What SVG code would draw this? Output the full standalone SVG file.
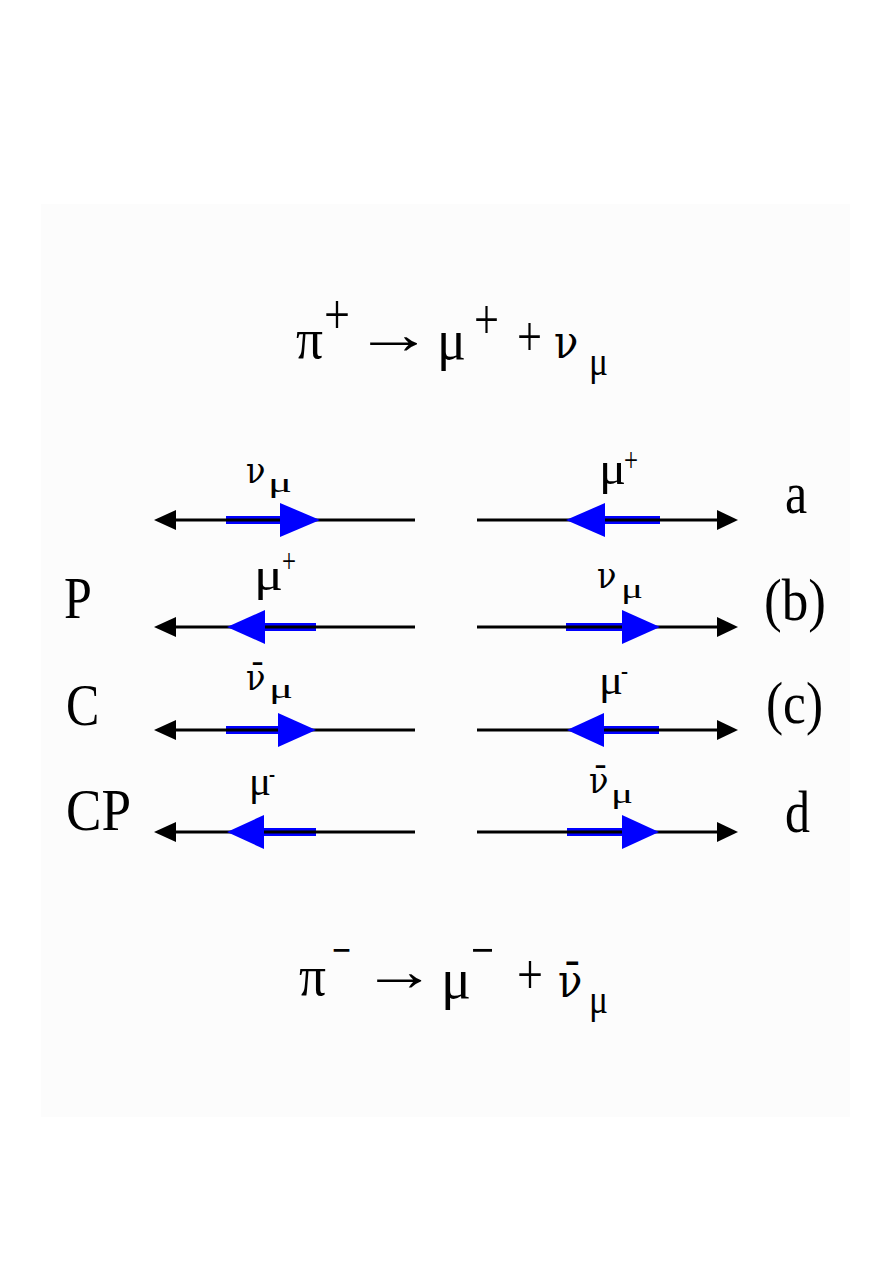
<svg xmlns="http://www.w3.org/2000/svg" width="893" height="1263" viewBox="0 0 893 1263">
<style>
.ax{stroke:#000;stroke-width:3;fill:none}
.bs{stroke:#0000ff;stroke-width:8;fill:none}
.bh{fill:#0000ff}
.kh{fill:#000}
.t{font-family:"Liberation Serif","Times New Roman",serif;fill:#000}
.dj{font-family:"DejaVu Serif","Liberation Serif",serif;fill:#000}
.big{font-size:50px}
.eq{font-size:48px}
.lab{font-size:36px}
.sub{font-size:24px}
.sup{font-size:28px}
.nuT{font-size:40px}
.nuL{font-size:32px}
</style>
<rect x="0" y="0" width="893" height="1263" fill="#ffffff"/>
<rect x="41" y="204" width="809" height="913" fill="#fcfcfc"/>

<g id="connectors">
  <!-- row a -->
  <line class="bs" x1="226" y1="520" x2="282" y2="520"/>
  <line class="ax" x1="160" y1="520" x2="415" y2="520"/>
  <polygon class="bh" points="280,503 320,520 280,537"/>
  <polygon class="kh" points="154,520 176,510 176,530"/>
  <line class="bs" x1="603" y1="520" x2="660" y2="520"/>
  <line class="ax" x1="477" y1="520" x2="732" y2="520"/>
  <polygon class="bh" points="605,503 566,520 605,537"/>
  <polygon class="kh" points="738,520 717,510 717,530"/>
  <!-- row b -->
  <line class="bs" x1="262" y1="627" x2="316" y2="627"/>
  <line class="ax" x1="160" y1="627" x2="415" y2="627"/>
  <polygon class="bh" points="265,610 227,627 265,644"/>
  <polygon class="kh" points="154,627 176,617 176,637"/>
  <line class="bs" x1="566" y1="627" x2="625" y2="627"/>
  <line class="ax" x1="477" y1="627" x2="732" y2="627"/>
  <polygon class="bh" points="622,610 660,627 622,644"/>
  <polygon class="kh" points="738,627 717,617 717,637"/>
  <!-- row c -->
  <line class="bs" x1="226" y1="730" x2="280" y2="730"/>
  <line class="ax" x1="160" y1="730" x2="415" y2="730"/>
  <polygon class="bh" points="278,713 316,730 278,747"/>
  <polygon class="kh" points="154,730 176,720 176,740"/>
  <line class="bs" x1="602" y1="730" x2="659" y2="730"/>
  <line class="ax" x1="477" y1="730" x2="732" y2="730"/>
  <polygon class="bh" points="604,713 567,730 604,747"/>
  <polygon class="kh" points="738,730 717,720 717,740"/>
  <!-- row d -->
  <line class="bs" x1="262" y1="832" x2="316" y2="832"/>
  <line class="ax" x1="160" y1="832" x2="415" y2="832"/>
  <polygon class="bh" points="264,815 227,832 264,849"/>
  <polygon class="kh" points="154,832 176,822 176,842"/>
  <line class="bs" x1="567" y1="832" x2="625" y2="832"/>
  <line class="ax" x1="477" y1="832" x2="732" y2="832"/>
  <polygon class="bh" points="622,815 659,832 622,849"/>
  <polygon class="kh" points="738,832 717,822 717,842"/>
</g>

<g id="title-top">
  <text class="t eq" transform="translate(296 358) scale(1 1.18)" textLength="27" lengthAdjust="spacingAndGlyphs">π</text>
  <text class="t eq" transform="translate(324 334) scale(1 1.18)" textLength="26" lengthAdjust="spacingAndGlyphs">+</text>
  <text class="t eq" transform="translate(354 353) scale(1.65 1.18)">→</text>
  <text class="t eq" transform="translate(437 359) scale(1 1.18)" textLength="29" lengthAdjust="spacingAndGlyphs">μ</text>
  <text class="t eq" transform="translate(474 339) scale(1 1.18)" textLength="25" lengthAdjust="spacingAndGlyphs">+</text>
  <text class="t eq" transform="translate(517 356) scale(1 1.18)" textLength="25" lengthAdjust="spacingAndGlyphs">+</text>
  <text class="dj nuT" transform="translate(554 358) scale(1 1.18)">ν</text>
  <text class="t" font-size="34" transform="translate(589 375) scale(1 1.18)" textLength="19" lengthAdjust="spacingAndGlyphs">μ</text>
</g>

<g id="title-bottom">
  <text class="t eq" transform="translate(299 995) scale(1 1.18)" textLength="27" lengthAdjust="spacingAndGlyphs">π</text>
  <text class="t eq" transform="translate(332 969) scale(1 1.18)" textLength="19" lengthAdjust="spacingAndGlyphs">−</text>
  <text class="t eq" transform="translate(362 990) scale(1.55 1.18)">→</text>
  <text class="t eq" transform="translate(441 998) scale(1 1.18)" textLength="30" lengthAdjust="spacingAndGlyphs">μ</text>
  <text class="t eq" transform="translate(471 969) scale(1 1.18)" textLength="23" lengthAdjust="spacingAndGlyphs">−</text>
  <text class="t eq" transform="translate(517 994) scale(1 1.18)" textLength="26" lengthAdjust="spacingAndGlyphs">+</text>
  <text class="dj nuT" transform="translate(558 997) scale(1 1.18)">ν̄</text>
  <text class="t" font-size="34" transform="translate(589 1013) scale(1 1.18)" textLength="19" lengthAdjust="spacingAndGlyphs">μ</text>
</g>

<g id="side-labels">
  <text class="t big" transform="translate(64 618) scale(1 1.18)">P</text>
  <text class="t big" transform="translate(66 725) scale(1 1.18)">C</text>
  <text class="t big" transform="translate(66 830) scale(1 1.18)" textLength="65" lengthAdjust="spacingAndGlyphs">CP</text>
  <text class="t big" transform="translate(785 513) scale(1 1.18)">a</text>
  <text class="t big" transform="translate(764 620) scale(1 1.18)" textLength="62" lengthAdjust="spacingAndGlyphs">(b)</text>
  <text class="t big" transform="translate(766 723) scale(1 1.18)" textLength="57" lengthAdjust="spacingAndGlyphs">(c)</text>
  <text class="t big" transform="translate(785 832) scale(1 1.18)">d</text>
</g>

<g id="row-a">
  <text class="dj nuL" transform="translate(246 483) scale(1 1.18)">ν</text>
  <text class="t sub" transform="translate(268 492) scale(1 1.18)" textLength="24" lengthAdjust="spacingAndGlyphs">μ</text>
  <text class="t" font-size="40" transform="translate(599 484) scale(1 1.18)" textLength="27" lengthAdjust="spacingAndGlyphs">μ</text>
  <text class="t sup" transform="translate(624 471) scale(1 1.18)" textLength="14" lengthAdjust="spacingAndGlyphs">+</text>
</g>

<g id="row-b">
  <text class="t" font-size="40" transform="translate(254 590) scale(1 1.18)" textLength="29" lengthAdjust="spacingAndGlyphs">μ</text>
  <text class="t sup" transform="translate(282 572) scale(1 1.18)" textLength="14" lengthAdjust="spacingAndGlyphs">+</text>
  <text class="dj nuL" transform="translate(597 588) scale(1 1.18)">ν</text>
  <text class="t sub" transform="translate(621 598) scale(1 1.18)" textLength="22" lengthAdjust="spacingAndGlyphs">μ</text>
</g>

<g id="row-c">
  <text class="dj nuL" transform="translate(246 690) scale(1 1.18)">ν̄</text>
  <text class="t sub" transform="translate(269 698) scale(1 1.18)" textLength="24" lengthAdjust="spacingAndGlyphs">μ</text>
  <text class="t lab" transform="translate(599 694) scale(1 1.18)" textLength="24" lengthAdjust="spacingAndGlyphs">μ</text>
  <text class="t sub" transform="translate(621 679) scale(1 1.18)" textLength="7" lengthAdjust="spacingAndGlyphs">-</text>
</g>

<g id="row-d">
  <text class="t lab" transform="translate(249 795) scale(1 1.18)" textLength="22" lengthAdjust="spacingAndGlyphs">μ</text>
  <text class="t sub" transform="translate(269 782) scale(1 1.18)" textLength="6" lengthAdjust="spacingAndGlyphs">-</text>
  <text class="dj nuL" transform="translate(589 793) scale(1 1.18)">ν̄</text>
  <text class="t sub" transform="translate(611 803) scale(1 1.18)" textLength="22" lengthAdjust="spacingAndGlyphs">μ</text>
</g>
</svg>
